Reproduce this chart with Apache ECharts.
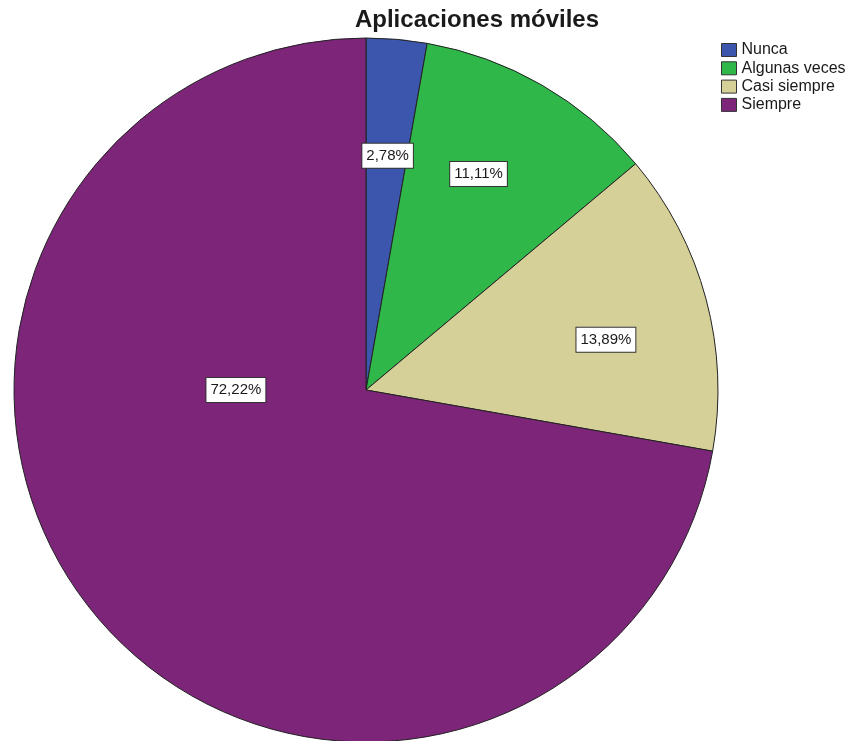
<!DOCTYPE html>
<html>
<head>
<meta charset="utf-8">
<script src="https://cdn.jsdelivr.net/npm/echarts@6/dist/echarts.min.js"></script>
<style>
  html, body { margin: 0; padding: 0; background: #ffffff; }
  #chart { width: 855px; height: 741px; }
</style>
</head>
<body>
<div id="chart"></div>
<script>
// Survey answers for mobile-app usage (percent of respondents)
const categories = ['Nunca', 'Algunas veces', 'Casi siempre', 'Siempre'];
const percentages = [2.78, 11.11, 13.89, 72.22];

// Slice fill colours
const sliceColors = ['#3D56AD', '#30B74A', '#D5CF98', '#7C2579'];
// Nudges applied to each value box from its default inner position
const labelShift = [[6, -56], [23, -61], [67, -4], [7, -115]];

const chart = echarts.init(document.getElementById('chart'));

chart.setOption({
  backgroundColor: '#ffffff',
  animation: false,
  title: {
    text: 'Aplicaciones móviles',
    left: 477,
    textAlign: 'center',
    top: 8,
    padding: 0,
    textStyle: {
      fontFamily: 'Liberation Sans, Arial, sans-serif',
      fontSize: 24,
      fontWeight: 'bold',
      color: '#1a1a1a'
    }
  },
  legend: {
    orient: 'vertical',
    left: 721,
    top: 42,
    padding: 0,
    itemWidth: 15,
    itemHeight: 13,
    itemGap: 2.3,
    icon: 'rect',
    selectedMode: false,
    textStyle: {
      fontFamily: 'Liberation Sans, Arial, sans-serif',
      fontSize: 16,
      color: '#1a1a1a'
    },
    itemStyle: { borderColor: '#333', borderWidth: 1 },
    data: categories
  },
  series: [{
    type: 'pie',
    center: [366, 390],
    radius: 352,
    startAngle: 90,
    clockwise: true,
    avoidLabelOverlap: false,
    silent: true,
    itemStyle: { borderColor: '#222', borderWidth: 1 },
    label: {
      show: true,
      position: 'inner',
      formatter: (p) => p.value.toFixed(2).replace('.', ',') + '%',
      fontFamily: 'Liberation Sans, Arial, sans-serif',
      fontSize: 15,
      color: '#1a1a1a',
      backgroundColor: '#ffffff',
      borderColor: '#333',
      borderWidth: 1,
      padding: [5, 4, 4, 4]
    },
    labelLine: { show: false },
    labelLayout: (params) => ({
      dx: labelShift[params.dataIndex][0],
      dy: labelShift[params.dataIndex][1]
    }),
    data: categories.map((name, i) => ({
      name: name,
      value: percentages[i],
      itemStyle: { color: sliceColors[i] }
    }))
  }]
});
</script>
</body>
</html>
